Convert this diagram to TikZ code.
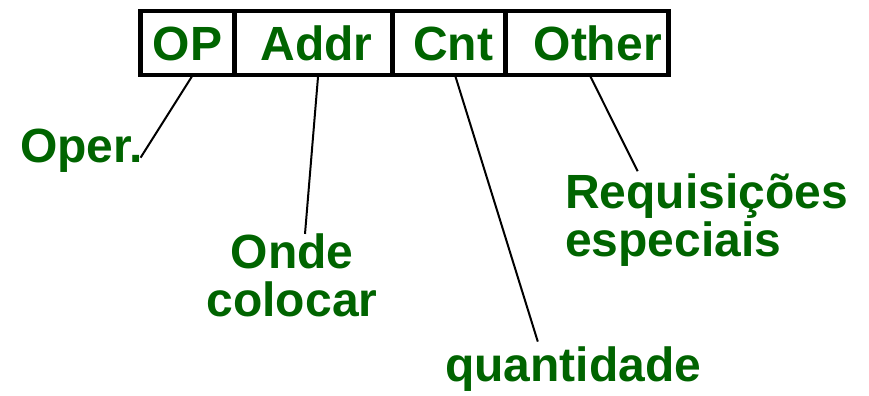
\documentclass[tikz,border=0pt]{standalone}
\usepackage{fontspec}
\setmainfont{Liberation Sans}
\usepackage{xcolor}
\definecolor{cText}{HTML}{006400}
\usepackage{tikz}
\usetikzlibrary{positioning}
\tikzset{
  field-box/.style={draw=black,line width=3.4pt,outer sep=0pt,inner sep=0pt,
    minimum height=48pt,text height=26pt,text depth=0pt,
    font=\fontsize{36}{36}\selectfont\bfseries,text=cText},
  note-label/.style={inner sep=0pt,font=\fontsize{36}{36}\selectfont\bfseries,
    text=cText},
  link/.style={line width=1.5pt,draw=black},
}

\begin{document}
\begin{tikzpicture}[x=0.75pt,y=0.75pt]
  \useasboundingbox (0,0) rectangle (869,396);
  % the instruction word
  \node[field-box,minimum width=70.5pt] (op) at (187.5,353) {OP};
  \node[field-box,minimum width=118.5pt,right=0pt of op]  (addr)  {\hspace{4.5pt}Addr};
  \node[field-box,minimum width=84.75pt,right=0pt of addr] (cnt)   {\hspace{6pt}Cnt};
  \node[field-box,minimum width=122.25pt,right=0pt of cnt] (other) {\hspace{16pt}Other};
  % what each field means
  \node[note-label,anchor=base west] (oper) at (20,233) {Oper.};
  \node[note-label,anchor=base,align=center] (onde) at (292,79) {Onde\\colocar};
  \node[note-label,anchor=base west] (quant) at (445,14) {quantidade};
  \node[note-label,anchor=base west,align=left] (req) at (565,139) {Requisições\\especiais};
  \draw[link] ([xshift=4pt]op.south)      -- ([shift={(-2pt,4pt)}]oper.base east);
  \draw[link] ([xshift=3.5pt]addr.south)  -- ([xshift=9.75pt]onde.north);
  \draw[link] ([xshift=4.5pt]cnt.south)   -- ([shift={(-26.6pt,4pt)}]quant.north);
  \draw[link] ([xshift=2pt]other.south)   -- ([shift={(-51.75pt,2pt)}]req.north);
\end{tikzpicture}
\end{document}
